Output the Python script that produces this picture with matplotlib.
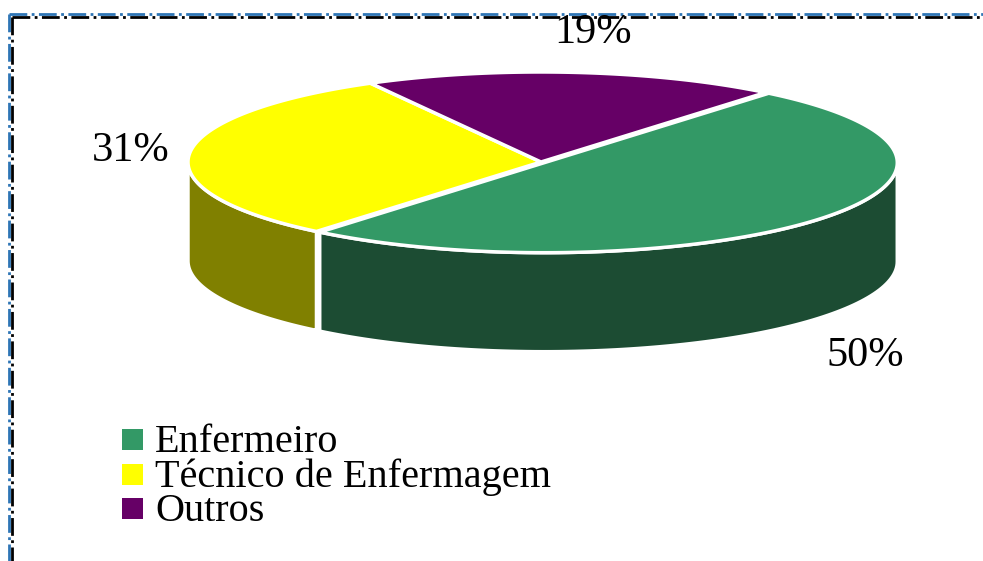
import numpy as np
import matplotlib.pyplot as plt
from matplotlib.patches import Polygon, Rectangle

# Дані
categories = ['Enfermeiro', 'Técnico de Enfermagem', 'Outros']
values = [50, 31, 19]
labels = ['50%', '31%', '19%']
top_colors = ['#339966', '#FFFF00', '#660066']
side_colors = ['#1C4C33', '#808000', '#330033']
explode = [0.012, 0, 0]

# Геометрія "3D" кругової діаграми (в пікселях)
cx, cy = 541, 162
rx, ry = 353, 90
depth = 99
start = 50.5

plt.rcParams['font.family'] = ['Liberation Serif', 'DejaVu Serif']

fig = plt.figure(figsize=(9.83, 5.61), dpi=100)
ax = fig.add_axes([0, 0, 1, 1])
ax.set_xlim(0, 983)
ax.set_ylim(561, 0)
ax.axis('off')


def pt(t, ox, oy, dz=0):
    t = np.radians(t)
    return ox + rx * np.cos(t), oy - ry * np.sin(t) + dz


total = sum(values)
slices = []
a0 = start
for i, v in enumerate(values):
    a1 = a0 - v / total * 360
    mid = np.radians((a0 + a1) / 2)
    ox = cx + explode[i] * rx * np.cos(mid)
    oy = cy - explode[i] * ry * np.sin(mid)
    slices.append((a1, a0, ox, oy))
    a0 = a1

# бокові стінки
for i, (a1, a0, ox, oy) in enumerate(slices):
    for k in (-1, 0, 1):
        lo = max(a1, -180 + 360 * k)
        hi = min(a0, 360 * k)
        if lo < hi:
            t = np.linspace(lo, hi, 100)
            xs, ys = pt(t, ox, oy)
            xb, yb = pt(t[::-1], ox, oy, depth)
            poly = np.column_stack([np.r_[xs, xb], np.r_[ys, yb]])
            ax.add_patch(Polygon(poly, closed=True, facecolor=side_colors[i],
                                 edgecolor='white', linewidth=2.5))

# верхні грані
for i, (a1, a0, ox, oy) in enumerate(slices):
    t = np.linspace(a1, a0, 200)
    xs, ys = pt(t, ox, oy)
    poly = np.column_stack([np.r_[ox, xs], np.r_[oy, ys]])
    ax.add_patch(Polygon(poly, closed=True, facecolor=top_colors[i],
                         edgecolor='white', linewidth=2.5))

# підписи відсотків
label_pos = [(865, 356), (131, 151), (593, 33)]
for lab, (x, y) in zip(labels, label_pos):
    ax.text(x, y, lab, fontsize=30.5, ha='center', va='center', color='black')

# легенда
for i, name in enumerate(categories):
    y = 439 + i * 34.5
    ax.add_patch(Rectangle((122, y - 10), 21, 21, facecolor=top_colors[i], edgecolor='none'))
    ax.text(155, y + 13, name, fontsize=29, ha='left', va='baseline', color='black')

# рамка
ax.plot([9, 983], [14, 14], color='#2E75B6', linewidth=2, linestyle='-.')
ax.plot([9, 9], [14, 561], color='#2E75B6', linewidth=2, linestyle='-.')
ax.plot([12, 983], [16.5, 16.5], color='black', linewidth=2, linestyle='-.')
ax.plot([11.5, 11.5], [16.5, 561], color='black', linewidth=2, linestyle='-.')

fig.savefig('out.png', dpi=100)
